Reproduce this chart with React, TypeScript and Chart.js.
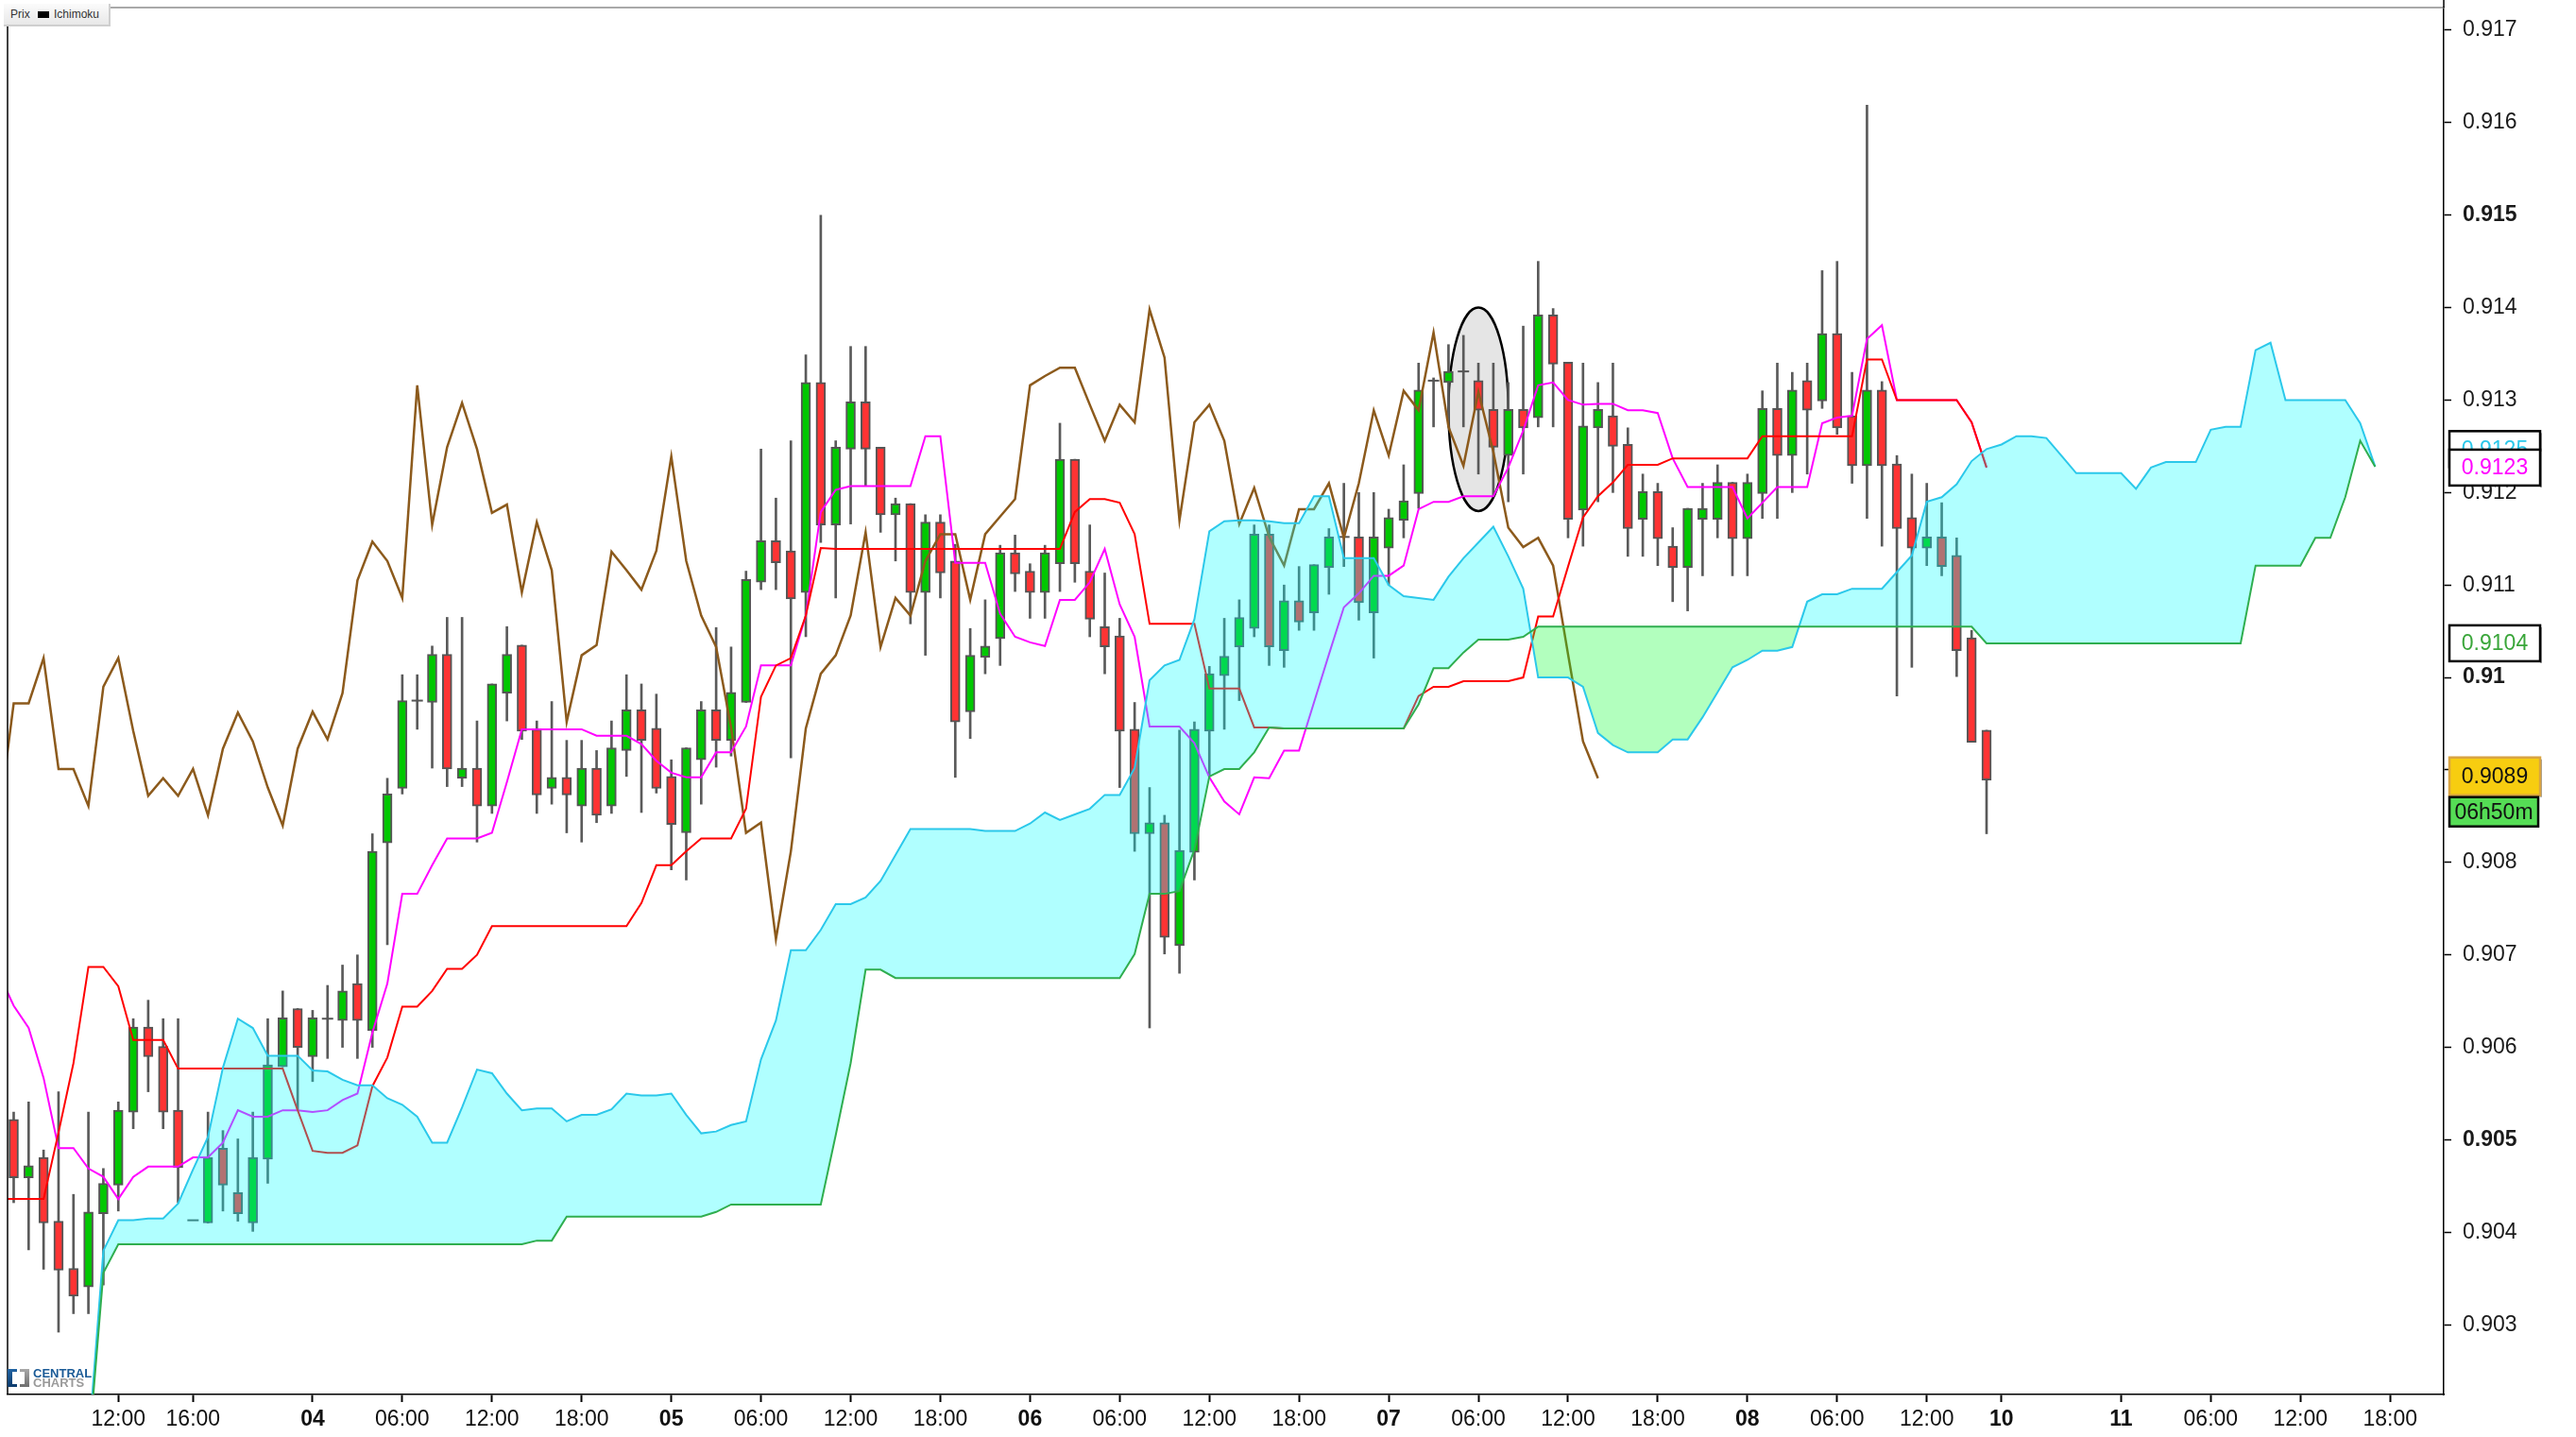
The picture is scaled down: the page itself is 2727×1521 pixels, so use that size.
import React, { useEffect, useRef } from "react";
import { Chart, registerables } from "chart.js";

Chart.register(...registerables);

const W = 2727;
const H = 1521;
const FONT = "'Liberation Sans', Arial, Helvetica, sans-serif";

// ---------- candles (hourly, index 0..132) ----------
const opens = [
  0.90522, 0.90459, 0.90481, 0.90412, 0.90361, 0.90341, 0.9042, 0.90451, 0.9053, 0.90622,
  0.90601, 0.90532, 0.90413, 0.9041, 0.90491, 0.90443, 0.9041, 0.90479, 0.90579, 0.90642,
  0.9059, 0.90631, 0.90629, 0.90669, 0.90618, 0.90821, 0.9088, 0.90975, 0.90973, 0.91025,
  0.90891, 0.90902, 0.90861, 0.90983, 0.91035, 0.90944, 0.9088, 0.90892, 0.90861, 0.90902,
  0.90861, 0.90921, 0.90965, 0.90945, 0.90893, 0.90832, 0.90911, 0.90965, 0.90932, 0.90973,
  0.91103, 0.91148, 0.91137, 0.91092, 0.91319, 0.91165, 0.91247, 0.91298, 0.91249, 0.91176,
  0.91188, 0.91092, 0.91168, 0.91126, 0.90963, 0.91022, 0.91042, 0.91135, 0.91115, 0.91092,
  0.91123, 0.91236, 0.91115, 0.91055, 0.91045, 0.90944, 0.90831, 0.90843, 0.9071, 0.90811,
  0.90942, 0.91002, 0.91033, 0.91053, 0.91155, 0.91029, 0.91083, 0.9107, 0.91119, 0.91152,
  0.91152, 0.9107, 0.9114, 0.9117, 0.91199, 0.91321, 0.91319, 0.91331, 0.91321, 0.9129,
  0.9124, 0.9129, 0.91281, 0.91392, 0.91341, 0.91181, 0.9127, 0.91283, 0.91252, 0.91171,
  0.91201, 0.91142, 0.91119, 0.91171, 0.91171, 0.91211, 0.9115, 0.91199, 0.91291, 0.9124,
  0.91321, 0.91299, 0.91372, 0.91283, 0.91229, 0.91311, 0.91231, 0.91173, 0.9114, 0.91152,
  0.91132, 0.91043, 0.90943,
];
const highs = [
  0.9053, 0.90541, 0.90489, 0.90552, 0.90441, 0.9053, 0.90469, 0.90541, 0.90631, 0.90651,
  0.90631, 0.90631, 0.90413, 0.9053, 0.9051, 0.90501, 0.9053, 0.90631, 0.90661, 0.90642,
  0.9064, 0.90667, 0.90689, 0.907, 0.90831, 0.90891, 0.91003, 0.91003, 0.91034, 0.91065,
  0.91065, 0.90953, 0.90993, 0.91055, 0.91035, 0.90953, 0.90974, 0.90932, 0.90932, 0.90921,
  0.90953, 0.91003, 0.90993, 0.90982, 0.90911, 0.90924, 0.90974, 0.91054, 0.91033, 0.91115,
  0.91247, 0.91194, 0.91256, 0.91349, 0.915, 0.91256, 0.91358, 0.91358, 0.91249, 0.91194,
  0.91188, 0.91176, 0.91176, 0.91144, 0.91053, 0.91084, 0.91143, 0.91154, 0.91123, 0.91143,
  0.91275, 0.91236, 0.91165, 0.91113, 0.91064, 0.90973, 0.90881, 0.90851, 0.90943, 0.90952,
  0.91012, 0.91064, 0.91084, 0.91165, 0.91165, 0.911, 0.9112, 0.91122, 0.91161, 0.9121,
  0.912, 0.912, 0.91182, 0.9123, 0.9134, 0.91324, 0.9136, 0.9137, 0.9134, 0.9134,
  0.91319, 0.9138, 0.9145, 0.91399, 0.91341, 0.9134, 0.91319, 0.9134, 0.9127, 0.9122,
  0.9121, 0.91162, 0.91183, 0.9121, 0.9123, 0.91211, 0.9122, 0.9131, 0.9134, 0.9133,
  0.9134, 0.9144, 0.9145, 0.9133, 0.91619, 0.9132, 0.9124, 0.9122, 0.9121, 0.91189,
  0.91151, 0.91051, 0.90943,
];
const lows = [
  0.90432, 0.90381, 0.9036, 0.90292, 0.90312, 0.90312, 0.90343, 0.90423, 0.90512, 0.90552,
  0.90512, 0.90432, 0.90413, 0.9041, 0.90423, 0.90412, 0.90401, 0.90453, 0.90579, 0.90532,
  0.90563, 0.90588, 0.906, 0.90588, 0.906, 0.90711, 0.90874, 0.90944, 0.90902, 0.90882,
  0.90882, 0.90822, 0.90853, 0.90953, 0.90933, 0.90853, 0.90863, 0.90832, 0.90822, 0.90843,
  0.90853, 0.90893, 0.90854, 0.90875, 0.90792, 0.90781, 0.90863, 0.90903, 0.90915, 0.90973,
  0.91095, 0.91095, 0.90913, 0.91044, 0.91146, 0.91086, 0.91166, 0.91207, 0.91157, 0.91126,
  0.91058, 0.91024, 0.91086, 0.90892, 0.90934, 0.91004, 0.91013, 0.91093, 0.91064, 0.91064,
  0.91093, 0.91103, 0.91044, 0.91004, 0.90881, 0.90812, 0.90621, 0.90701, 0.9068, 0.90781,
  0.90894, 0.90944, 0.90975, 0.91044, 0.91013, 0.91011, 0.91051, 0.91051, 0.9109, 0.9112,
  0.91062, 0.91021, 0.911, 0.91151, 0.91183, 0.91271, 0.91271, 0.91271, 0.9122, 0.91196,
  0.9119, 0.9122, 0.91271, 0.91271, 0.91151, 0.91142, 0.9119, 0.912, 0.91131, 0.91131,
  0.91121, 0.91082, 0.91072, 0.9111, 0.91151, 0.9111, 0.9111, 0.91172, 0.91172, 0.912,
  0.9122, 0.91291, 0.91263, 0.9121, 0.91172, 0.91142, 0.9098, 0.91011, 0.91121, 0.9111,
  0.91001, 0.9093, 0.90831,
];
const closes = [
  0.90459, 0.90472, 0.9041, 0.90359, 0.90331, 0.90422, 0.90453, 0.90532, 0.90622, 0.9059,
  0.9053, 0.9047, 0.90413, 0.90481, 0.90451, 0.9042, 0.90481, 0.90581, 0.90632, 0.906,
  0.90632, 0.90631, 0.90661, 0.90629, 0.90812, 0.90874, 0.90975, 0.90975, 0.91025, 0.90901,
  0.90902, 0.90861, 0.90993, 0.91025, 0.90942, 0.90873, 0.90892, 0.90873, 0.90902, 0.90851,
  0.90924, 0.90965, 0.90932, 0.9088, 0.90841, 0.90924, 0.90965, 0.90932, 0.90984, 0.91106,
  0.91148, 0.91124, 0.91085, 0.91319, 0.91165, 0.91249, 0.91298, 0.91247, 0.91176, 0.91188,
  0.91092, 0.91168, 0.91113, 0.90952, 0.91024, 0.91034, 0.91135, 0.91112, 0.91092, 0.91135,
  0.91236, 0.91123, 0.91063, 0.91033, 0.90942, 0.90831, 0.90843, 0.90719, 0.90813, 0.90944,
  0.91004, 0.91023, 0.91065, 0.91155, 0.91033, 0.91083, 0.9106, 0.91122, 0.91152, 0.91152,
  0.91081, 0.91152, 0.91173, 0.91191, 0.91311, 0.91321, 0.91331, 0.91331, 0.91289, 0.91249,
  0.9129, 0.9127, 0.91392, 0.91339, 0.91171, 0.91272, 0.9129, 0.9125, 0.91161, 0.91201,
  0.9115, 0.91119, 0.91183, 0.91183, 0.91211, 0.9115, 0.91211, 0.91291, 0.9124, 0.91311,
  0.91289, 0.91372, 0.9127, 0.91229, 0.91311, 0.91229, 0.91161, 0.9114, 0.91152, 0.9112,
  0.91029, 0.9093, 0.90889,
];

// ---------- Ichimoku lines ----------
const TENKAN_START = -1;
const tenkan = [
  0.9068, 0.90645, 0.90621, 0.90567, 0.90491, 0.90491, 0.90469, 0.9046, 0.90436, 0.9046,
  0.90471, 0.90471, 0.90471, 0.90481, 0.90481, 0.90497, 0.90532, 0.90525, 0.90525, 0.90532,
  0.90532, 0.9053, 0.90532, 0.90543, 0.9055, 0.90616, 0.90669, 0.90766, 0.90766, 0.90797,
  0.90826, 0.90826, 0.90826, 0.90832, 0.90887, 0.90944, 0.90944, 0.90944, 0.90944, 0.90944,
  0.90937, 0.90937, 0.90937, 0.90928, 0.9091, 0.90897, 0.90892, 0.90892, 0.90919, 0.90919,
  0.90947, 0.91013, 0.91013, 0.91013, 0.91067, 0.91179, 0.91203, 0.91207, 0.91207, 0.91207,
  0.91207, 0.91207, 0.91261, 0.91261, 0.91124, 0.91124, 0.91124, 0.91069, 0.91044, 0.91038,
  0.91034, 0.91084, 0.91084, 0.91103, 0.91139, 0.91079, 0.91044, 0.90947, 0.90947, 0.90947,
  0.90929, 0.90892, 0.90866, 0.90852, 0.90892, 0.90891, 0.90921, 0.90921, 0.90973, 0.91025,
  0.91076, 0.91091, 0.9111, 0.9111, 0.91121, 0.91182, 0.9119, 0.9119, 0.91196, 0.91196,
  0.91196, 0.91227, 0.91267, 0.91316, 0.91319, 0.913, 0.91295, 0.91296, 0.91296, 0.91289,
  0.91289, 0.91286, 0.91237, 0.91206, 0.91206, 0.91206, 0.91206, 0.91172, 0.91189, 0.91206,
  0.91206, 0.91206, 0.91275, 0.91281, 0.91283, 0.91366, 0.91381, 0.913, 0.913, 0.913,
  0.913, 0.913, 0.91276, 0.91227,
];
const KIJUN_START = -1;
const kijun = [
  0.90436, 0.90436, 0.90436, 0.90436, 0.90508, 0.90583, 0.90687, 0.90687, 0.90666, 0.90608,
  0.90608, 0.90608, 0.90577, 0.90577, 0.90577, 0.90577, 0.90577, 0.90577, 0.90577, 0.90577,
  0.90532, 0.90488, 0.90486, 0.90486, 0.90494, 0.90558, 0.90589, 0.90644, 0.90644, 0.90661,
  0.90685, 0.90685, 0.907, 0.90731, 0.90731, 0.90731, 0.90731, 0.90731, 0.90731, 0.90731,
  0.90731, 0.90731, 0.90731, 0.90756, 0.90797, 0.90797, 0.90812, 0.90826, 0.90826, 0.90826,
  0.90858, 0.90979, 0.91013, 0.91021, 0.91067, 0.9114, 0.91139, 0.91139, 0.91139, 0.91139,
  0.91139, 0.91139, 0.91139, 0.91139, 0.91139, 0.91139, 0.91139, 0.91139, 0.91139, 0.91139,
  0.91139, 0.91139, 0.91179, 0.91193, 0.91193, 0.91189, 0.91155, 0.91058, 0.91058, 0.91058,
  0.91058, 0.90988, 0.90988, 0.90988, 0.90946, 0.90946, 0.90945, 0.90945, 0.90945, 0.90945,
  0.90945, 0.90945, 0.90945, 0.90945, 0.90945, 0.9098, 0.9099, 0.9099, 0.90996, 0.90996,
  0.90996, 0.90996, 0.91, 0.91066, 0.91066, 0.9112, 0.91173, 0.91196, 0.91211, 0.9123,
  0.9123, 0.9123, 0.91237, 0.91237, 0.91237, 0.91237, 0.91237, 0.91237, 0.91261, 0.91261,
  0.91261, 0.91261, 0.91261, 0.91261, 0.91261, 0.91344, 0.91344, 0.913, 0.913, 0.913,
  0.913, 0.913, 0.91276, 0.91227,
];
const CHIKOU_START = -1;
const chikou = [
  0.90845, 0.90972, 0.90972, 0.91021, 0.90901, 0.90901, 0.90861, 0.9099, 0.91021, 0.90942,
  0.90872, 0.90891, 0.90872, 0.90901, 0.90851, 0.90923, 0.90962, 0.90931, 0.90881, 0.9084,
  0.90923, 0.90963, 0.90933, 0.90983, 0.91105, 0.91147, 0.91126, 0.91086, 0.91316, 0.91165,
  0.91249, 0.91297, 0.91247, 0.91178, 0.91187, 0.91092, 0.91168, 0.91116, 0.90952, 0.91024,
  0.91035, 0.91136, 0.91116, 0.91095, 0.91137, 0.91239, 0.91126, 0.91067, 0.91033, 0.90946,
  0.90832, 0.90843, 0.90717, 0.90812, 0.90945, 0.91004, 0.91024, 0.91067, 0.91157, 0.91033,
  0.91086, 0.91067, 0.91126, 0.91155, 0.91155, 0.91084, 0.91155, 0.91174, 0.91193, 0.91316,
  0.91326, 0.91335, 0.91335, 0.91295, 0.91256, 0.91295, 0.91276, 0.91398, 0.91346, 0.9117,
  0.91276, 0.91295, 0.91256, 0.91166, 0.91205, 0.91152, 0.91121, 0.91182, 0.91182, 0.9121,
  0.91151, 0.9121, 0.91289, 0.9124, 0.9131, 0.91289, 0.91373, 0.91271, 0.91229, 0.91309,
  0.91244, 0.91162, 0.91141, 0.91151, 0.91121, 0.91025, 0.90931, 0.90891,
];
const SENKOU_START = 5;
const senkouA = [
  0.9017, 0.9038, 0.90413, 0.90413, 0.90415, 0.90415, 0.90431, 0.90468, 0.90503, 0.90578,
  0.90631, 0.90621, 0.90591, 0.90591, 0.90591, 0.90575, 0.90574, 0.90565, 0.90559, 0.90559,
  0.90545, 0.90538, 0.90525, 0.90497, 0.90497, 0.90535, 0.90576, 0.90572, 0.9055, 0.90532,
  0.90534, 0.90534, 0.9052, 0.90527, 0.90527, 0.90533, 0.9055, 0.90548, 0.90548, 0.9055,
  0.90527, 0.90507, 0.90509, 0.90516, 0.9052, 0.90587, 0.90629, 0.90705, 0.90705, 0.90727,
  0.90755, 0.90755, 0.90762, 0.9078, 0.90808, 0.90836, 0.90836, 0.90836, 0.90836, 0.90836,
  0.90834, 0.90834, 0.90834, 0.90842, 0.90854, 0.90846, 0.90852, 0.90858, 0.90873, 0.90873,
  0.90902, 0.90997, 0.91013, 0.91019, 0.91063, 0.91158, 0.91169, 0.9117, 0.9117, 0.91169,
  0.91167, 0.91167, 0.91196, 0.91196, 0.91129, 0.91129, 0.91129, 0.911, 0.91088, 0.91086,
  0.91084, 0.91109, 0.91129, 0.91146, 0.91163, 0.91131, 0.91096, 0.91, 0.91, 0.91,
  0.9099, 0.9094, 0.90927, 0.90919, 0.90919, 0.90919, 0.90933, 0.90933, 0.90957, 0.90984,
  0.91011, 0.91019, 0.91029, 0.91029, 0.91033, 0.91082, 0.9109, 0.9109, 0.91096, 0.91096,
  0.91096, 0.91114, 0.91132, 0.9119, 0.91195, 0.91209, 0.91234, 0.91247, 0.91252, 0.91261,
  0.91261, 0.91259, 0.9124, 0.91221, 0.91221, 0.91221, 0.91221, 0.91204, 0.91227, 0.91233,
  0.91233, 0.91233, 0.91268, 0.91271, 0.91271, 0.91354, 0.91362, 0.913, 0.913, 0.913,
  0.913, 0.913, 0.91275, 0.91228,
];
const senkouB = [
  0.9016, 0.90356, 0.90387, 0.90387, 0.90387, 0.90387, 0.90387, 0.90387, 0.90387, 0.90387,
  0.90387, 0.90387, 0.90387, 0.90387, 0.90387, 0.90387, 0.90387, 0.90387, 0.90387, 0.90387,
  0.90387, 0.90387, 0.90387, 0.90387, 0.90387, 0.90387, 0.90387, 0.90387, 0.90387, 0.90387,
  0.90391, 0.90391, 0.90417, 0.90417, 0.90417, 0.90417, 0.90417, 0.90417, 0.90417, 0.90417,
  0.90417, 0.90417, 0.90422, 0.9043, 0.9043, 0.9043, 0.9043, 0.9043, 0.9043, 0.9043,
  0.90505, 0.90583, 0.90684, 0.90684, 0.90675, 0.90675, 0.90675, 0.90675, 0.90675, 0.90675,
  0.90675, 0.90675, 0.90675, 0.90675, 0.90675, 0.90675, 0.90675, 0.90675, 0.90675, 0.90675,
  0.90701, 0.90766, 0.90766, 0.90769, 0.90814, 0.90893, 0.90901, 0.90901, 0.90919, 0.90946,
  0.90945, 0.90945, 0.90945, 0.90945, 0.90945, 0.90945, 0.90945, 0.90945, 0.90945, 0.90971,
  0.9101, 0.9101, 0.91027, 0.91041, 0.91041, 0.91041, 0.91044, 0.91055, 0.91055, 0.91055,
  0.91055, 0.91055, 0.91055, 0.91055, 0.91055, 0.91055, 0.91055, 0.91055, 0.91055, 0.91055,
  0.91055, 0.91055, 0.91055, 0.91055, 0.91055, 0.91055, 0.91055, 0.91055, 0.91055, 0.91055,
  0.91055, 0.91055, 0.91055, 0.91055, 0.91055, 0.91055, 0.91055, 0.91037, 0.91037, 0.91037,
  0.91037, 0.91037, 0.91037, 0.91037, 0.91037, 0.91037, 0.91037, 0.91037, 0.91037, 0.91037,
  0.91037, 0.91037, 0.91037, 0.91037, 0.91037, 0.91121, 0.91121, 0.91121, 0.91121, 0.91151,
  0.91151, 0.91195, 0.91256, 0.91228,
];

// ---------- axes ----------
const xTickIndex = [7, 12, 20, 26, 32, 38, 44, 50, 56, 62, 68, 74, 80, 86, 92, 98, 104, 110, 116, 122, 128, 133, 141, 147, 153, 159];
const xTickLabels = ["12:00", "16:00", "04", "06:00", "12:00", "18:00", "05", "06:00", "12:00", "18:00", "06", "06:00", "12:00", "18:00", "07", "06:00", "12:00", "18:00", "08", "06:00", "12:00", "10", "11", "06:00", "12:00", "18:00"];
const yTicks = [0.903, 0.904, 0.905, 0.906, 0.907, 0.908, 0.909, 0.91, 0.911, 0.912, 0.913, 0.914, 0.915, 0.916, 0.917];
const COUNTDOWN = "06h50m";

const X_MIN = -0.41;
const X_MAX = 162.59;
const Y_MIN = 0.902246;
const Y_MAX = 0.917245;
const ELLIPSE = { x: 98.0, y: 0.9129, rx: 2.0, ry: 0.0011 };

const fmt4 = (v: number) => v.toFixed(4);

export default function App() {
  const ref = useRef<HTMLCanvasElement | null>(null);

  useEffect(() => {
    const canvas = ref.current;
    if (!canvas) return;
    const idx = closes.map((_, i) => i);
    const series = (arr: number[], start: number) => arr.map((y, k) => ({ x: start + k, y }));
    const candleColors = idx.map((i) => (closes[i] >= opens[i] ? "#00c800" : "#ff3333"));
    const dojiPts = idx.filter((i) => opens[i] === closes[i]).map((i) => ({ x: i, y: closes[i] }));
    const last = closes.length - 1;

    const ellipsePlugin = {
      id: "ellipseMark",
      beforeDatasetsDraw(chart: any) {
        const { ctx, scales } = chart;
        const x = scales.x, y = scales.y;
        const cx = x.getPixelForValue(ELLIPSE.x);
        const cy = y.getPixelForValue(ELLIPSE.y);
        const rx = Math.abs(x.getPixelForValue(ELLIPSE.x + ELLIPSE.rx) - cx);
        const ry = Math.abs(y.getPixelForValue(ELLIPSE.y + ELLIPSE.ry) - cy);
        ctx.save();
        ctx.beginPath();
        ctx.ellipse(cx, cy, rx, ry, 0, 0, Math.PI * 2);
        ctx.fillStyle = "#e5e5e5";
        ctx.fill();
        ctx.lineWidth = 2.5;
        ctx.strokeStyle = "#000";
        ctx.stroke();
        ctx.restore();
      },
    };

    const overlayPlugin = {
      id: "overlay",
      afterDraw(chart: any) {
        const { ctx, chartArea, scales } = chart;
        const y = scales.y;
        ctx.save();
        // frame
        ctx.lineWidth = 1.5;
        ctx.strokeStyle = "#8c8c8c";
        ctx.beginPath();
        ctx.moveTo(chartArea.left, chartArea.top);
        ctx.lineTo(chartArea.right, chartArea.top);
        ctx.stroke();
        ctx.strokeStyle = "#000";
        ctx.beginPath();
        ctx.moveTo(chartArea.left, chartArea.top);
        ctx.lineTo(chartArea.left, chartArea.bottom);
        ctx.stroke();
        ctx.beginPath();
        ctx.moveTo(chartArea.right, 0);
        ctx.lineTo(chartArea.right, chartArea.top);
        ctx.stroke();

        const boxX = chartArea.right + 6;
        const boxW = 96;
        const boxes = [
          { v: senkouA[last - SENKOU_START], color: "#2bc8ea", fill: "#ffffff", stroke: "#000", up: 19, h: 38 },
          { v: tenkan[last - TENKAN_START], color: "#ff00ff", fill: "#ffffff", stroke: "#000", up: 19, h: 38 },
          { v: senkouB[last - SENKOU_START], color: "#3aa63a", fill: "#ffffff", stroke: "#000", up: 19, h: 38 },
          { v: closes[last], color: "#111111", fill: "#f7cd10", stroke: "#d9a441", up: 24, h: 40 },
        ];
        ctx.font = `23px ${FONT}`;
        ctx.textAlign = "center";
        ctx.textBaseline = "middle";
        let closeBottom = 0;
        boxes.forEach((b) => {
          const py = y.getPixelForValue(b.v);
          const top = py - b.up;
          ctx.fillStyle = "#a0a0a0";
          ctx.fillRect(boxX + boxW, top + 2, 2, b.h);
          ctx.fillStyle = b.fill;
          ctx.fillRect(boxX, top, boxW, b.h);
          ctx.lineWidth = 2.5;
          ctx.strokeStyle = b.stroke;
          ctx.strokeRect(boxX, top, boxW, b.h);
          ctx.fillStyle = b.color;
          ctx.fillText(fmt4(b.v), boxX + boxW / 2, top + b.h / 2 + 1);
          closeBottom = top + b.h;
        });
        // countdown
        const cTop = closeBottom + 2;
        const cH = 31;
        ctx.fillStyle = "#55dd55";
        ctx.fillRect(boxX, cTop, 94, cH);
        ctx.lineWidth = 2.5;
        ctx.strokeStyle = "#000";
        ctx.strokeRect(boxX, cTop, 94, cH);
        ctx.fillStyle = "#111";
        ctx.fillText(COUNTDOWN, boxX + 47, cTop + cH / 2 + 1);
        ctx.restore();
      },
    };

    const chart = new Chart(canvas, {
      type: "bar",
      data: {
        datasets: [
          {
            type: "bar",
            label: "wick",
            data: idx.map((i) => ({ x: i, y: [lows[i], highs[i]] })),
            backgroundColor: "#5a5a5a",
            borderWidth: 0,
            barThickness: 2,
            grouped: false,
            order: 20,
          },
          {
            type: "bar",
            label: "body",
            data: idx.map((i) => ({ x: i, y: [opens[i], closes[i]] })),
            backgroundColor: candleColors,
            borderColor: "#555555",
            borderWidth: 2,
            borderSkipped: false,
            barThickness: 10,
            grouped: false,
            order: 19,
          },
          {
            type: "line",
            label: "doji",
            data: dojiPts,
            showLine: false,
            pointStyle: "line",
            pointRadius: 6,
            pointHoverRadius: 6,
            pointBorderColor: "#555555",
            pointBorderWidth: 2,
            order: 18,
          },
          {
            type: "line",
            label: "Chikou",
            data: series(chikou, CHIKOU_START),
            borderColor: "#8c5a1c",
            borderWidth: 2.5,
            pointRadius: 0,
            tension: 0,
            order: 7,
          },
          {
            type: "line",
            label: "Tenkan",
            data: series(tenkan, TENKAN_START),
            borderColor: "#ff00ff",
            borderWidth: 2,
            pointRadius: 0,
            tension: 0,
            order: 6,
          },
          {
            type: "line",
            label: "Kijun",
            data: series(kijun, KIJUN_START),
            borderColor: "#ff0000",
            borderWidth: 2,
            pointRadius: 0,
            tension: 0,
            order: 5,
          },
          {
            type: "line",
            label: "Senkou B",
            data: series(senkouB, SENKOU_START),
            borderColor: "#2fae4f",
            borderWidth: 2,
            pointRadius: 0,
            tension: 0,
            order: 0,
          },
          {
            type: "line",
            label: "Senkou A",
            data: series(senkouA, SENKOU_START),
            borderColor: "#2bc8ea",
            borderWidth: 2,
            pointRadius: 0,
            tension: 0,
            fill: { target: 6, above: "rgba(0,255,255,0.31)", below: "rgba(0,255,40,0.3)" },
            order: 1,
          },
        ] as any,
      },
      options: {
        responsive: false,
        animation: false,
        events: [],
        layout: { padding: { left: 3.5, top: 3.8, right: 0, bottom: 0 } },
        plugins: {
          legend: { display: false },
          tooltip: { enabled: false },
          filler: { propagate: false, drawTime: "beforeDatasetDraw" },
        } as any,
        scales: {
          x: {
            type: "linear",
            min: X_MIN,
            max: X_MAX,
            offset: false,
            position: "bottom",
            grid: { display: true, offset: false, drawOnChartArea: false, drawTicks: true, tickLength: 8, tickWidth: 2, tickColor: "#000" },
            border: { display: true, color: "#000", width: 1.5 },
            ticks: {
              autoSkip: false,
              maxRotation: 0,
              minRotation: 0,
              padding: 5,
              color: "#111",
              font: (ctx: any) => {
                const v = ctx.tick ? ctx.tick.value : null;
                const k = xTickIndex.indexOf(v);
                const lab = k >= 0 ? xTickLabels[k] : "";
                return { family: FONT, size: 23, weight: lab.length === 2 ? "bold" : "normal" };
              },
              callback: (v: any) => {
                const k = xTickIndex.indexOf(Number(v));
                return k >= 0 ? xTickLabels[k] : "";
              },
            },
            afterBuildTicks: (s: any) => {
              s.ticks = xTickIndex.map((v) => ({ value: v }));
            },
            afterFit: (s: any) => {
              s.height = 45;
              s.paddingLeft = 0;
              s.paddingRight = 0;
            },
          },
          y: {
            type: "linear",
            position: "right",
            min: Y_MIN,
            max: Y_MAX,
            grid: { display: true, offset: false, drawOnChartArea: false, drawTicks: true, tickLength: 8, tickWidth: 1.5, tickColor: "#000" },
            border: { display: true, color: "#000", width: 1.5 },
            ticks: {
              padding: 12,
              color: "#1a1a1a",
              font: (ctx: any) => {
                const v = ctx.tick ? ctx.tick.value : 0;
                const bold = Math.round(v * 1000) % 5 === 0;
                return { family: FONT, size: 23, weight: bold ? "bold" : "normal" };
              },
              callback: (v: any) => Number(v).toFixed(3).replace(/0+$/, ""),
            },
            afterBuildTicks: (s: any) => {
              s.ticks = yTicks.map((v) => ({ value: v }));
            },
            afterFit: (s: any) => {
              s.width = 140;
              s.paddingTop = 0;
              s.paddingBottom = 0;
            },
          },
        } as any,
      },
      plugins: [ellipsePlugin, overlayPlugin],
    });
    return () => chart.destroy();
  }, []);

  return (
    <div style={{ position: "relative", width: W, height: H, overflow: "hidden", background: "#fff" }}>
      <style>{"html,body{margin:0;padding:0;overflow:hidden;background:#fff}"}</style>
      <canvas ref={ref} width={W} height={H} style={{ display: "block", width: W, height: H }} />
      <div
        style={{
          position: "absolute",
          left: 4,
          top: 4,
          width: 111,
          height: 22,
          background: "linear-gradient(#fbfbfb, #e8e8e8)",
          borderRight: "2px solid #cfcfcf",
          borderBottom: "2px solid #cfcfcf",
          fontFamily: FONT,
          fontSize: 12,
          color: "#333",
          lineHeight: "22px",
          whiteSpace: "nowrap",
        }}
      >
        <span style={{ position: "absolute", left: 7, top: 0 }}>Prix</span>
        <span style={{ position: "absolute", left: 36, top: 8, width: 12, height: 7, background: "#000" }} />
        <span style={{ position: "absolute", left: 53, top: 0 }}>Ichimoku</span>
      </div>
      <div style={{ position: "absolute", left: 8, top: 1448, height: 21, display: "flex", alignItems: "center" }}>
        <div style={{ position: "relative", width: 24, height: 19 }}>
          <div style={{ position: "absolute", left: 0, top: 0, width: 10, height: 19, background: "linear-gradient(#2163a3, #0d3b6b)" }} />
          <div style={{ position: "absolute", left: 5, top: 3, width: 5, height: 13, background: "#fff" }} />
          <div style={{ position: "absolute", left: 13, top: 0, width: 10, height: 19, background: "linear-gradient(#a8a8a8, #6e6e6e)" }} />
          <div style={{ position: "absolute", left: 13, top: 3, width: 5, height: 13, background: "#fff" }} />
        </div>
        <div style={{ marginLeft: 3, fontFamily: FONT, fontWeight: "bold", fontSize: 13, lineHeight: "10px" }}>
          <div style={{ color: "#1a5a96" }}>CENTRAL</div>
          <div style={{ color: "#9a9a9a" }}>CHARTS</div>
        </div>
      </div>
    </div>
  );
}
